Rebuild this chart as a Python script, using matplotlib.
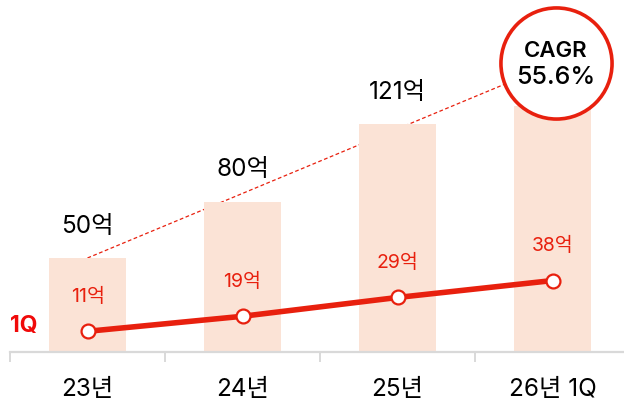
import matplotlib
matplotlib.use("Agg")
import matplotlib.pyplot as plt

plt.rcParams['font.family'] = ['Inter', 'Noto Sans CJK KR', 'DejaVu Sans']

categories = ["23년", "24년", "25년", "26년 1Q"]
bar_values = [50, 80, 121, 131]
bar_labels = ["50억", "80억", "121억", None]
q1_values = [11, 19, 29, 38]
q1_labels = ["11억", "19억", "29억", "38억"]
cagr_text = ["CAGR", "55.6%"]
cagr_pos = (3.02, 153.7)

BAR_C = '#fbe3d6'
RED = '#e8200e'

fig = plt.figure(figsize=(6.24, 4.08), dpi=100)
ax = fig.add_axes([10/624, 56/408, 620/624, 352/408])
x = list(range(len(categories)))

ax.bar(x, bar_values, width=0.5, color=BAR_C, zorder=2)
ax.plot([x[0], cagr_pos[0]], [bar_values[0], cagr_pos[1]], color=RED,
        lw=0.9, ls=(0, (3, 2)), zorder=1)
ax.plot(x, q1_values, color=RED, lw=4.0, zorder=3,
        marker='o', markersize=10, markerfacecolor='white',
        markeredgecolor=RED, markeredgewidth=1.6)

for xi, v, lab in zip(x, bar_values, bar_labels):
    if lab:
        ax.annotate(lab, (xi, v), xytext=(0, 23), textcoords='offset points',
                    ha='center', va='center', fontsize=17.5, color='black')
for xi, v, lab in zip(x, q1_values, q1_labels):
    ax.annotate(lab, (xi, v), xytext=(0, 25), textcoords='offset points',
                ha='center', va='center', fontsize=14, color=RED)

ax.annotate("1Q", (-0.5, q1_values[0]), xytext=(0, 4), textcoords='offset points',
            ha='left', va='center', fontsize=16.5, fontweight='bold', color='#f00a0a')

ax.scatter([cagr_pos[0]], [cagr_pos[1]], s=6400, facecolor='white',
           edgecolor=RED, linewidth=2.6, zorder=5, clip_on=False)
ax.annotate(cagr_text[0], cagr_pos, xytext=(0, 8.5), textcoords='offset points',
            ha='center', va='center', fontsize=16, fontweight='semibold', zorder=6)
ax.annotate(cagr_text[1], cagr_pos, xytext=(0, -10.5), textcoords='offset points',
            ha='center', va='center', fontsize=18, fontweight='medium', zorder=6)

ax.set_xlim(-0.5, 3.5)
ax.set_ylim(0, 187.2)
for s in ['top', 'right', 'left']:
    ax.spines[s].set_visible(False)
ax.spines['bottom'].set_color('#d9d9d9')
ax.spines['bottom'].set_linewidth(1.6)
ax.set_yticks([])
ax.set_xticks(x)
ax.set_xticklabels(categories, fontsize=17.5)
ax.tick_params(axis='x', which='major', length=0, pad=19)
ax.set_xticks([-0.5, 0.5, 1.5, 2.5, 3.5], minor=True)
ax.tick_params(axis='x', which='minor', length=7, width=1.4, color='#d9d9d9')

fig.savefig('out.png', dpi=100)
